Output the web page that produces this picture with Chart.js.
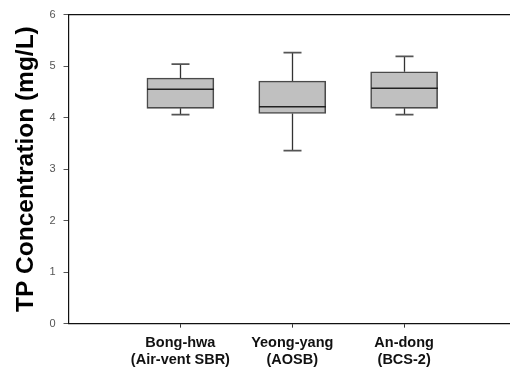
<!DOCTYPE html>
<html>
<head>
<meta charset="utf-8">
<script src="https://cdn.jsdelivr.net/npm/chart.js@4"></script>
<style>
html, body { margin:0; padding:0; overflow:hidden; background:#fff; }
</style>
</head>
<body>
<canvas id="tp_chart" width="516" height="376"></canvas>
<script>
// box plot values (mg/L)
const categories = [["Bong-hwa", "(Air-vent SBR)"], ["Yeong-yang", "(AOSB)"], ["An-dong", "(BCS-2)"]];
const minVals = [4.06, 3.36, 4.06];
const q1Vals = [4.18, 4.08, 4.18];
const medVals = [4.55, 4.21, 4.57];
const q3Vals = [4.77, 4.71, 4.89];
const maxVals = [5.04, 5.26, 5.19];
const yTicks = [0, 1, 2, 3, 4, 5, 6];

const BOX_W = 67;
const CAP_W = 18;

// whiskers + median line, drawn from the scales
const whiskerPlugin = {
    id: "whiskers",
    afterDatasetsDraw(chart) {
        let x = chart.scales.x, y = chart.scales.y, c = chart.ctx;
        c.save();
        c.lineCap = "butt";
        for (let i = 0; i < categories.length; i++) {
            let px = Math.round(x.getPixelForValue(i + 1)) + 0.5;
            let yMin = y.getPixelForValue(minVals[i]);
            let yMax = y.getPixelForValue(maxVals[i]);
            let yQ1 = y.getPixelForValue(q1Vals[i]);
            let yQ3 = y.getPixelForValue(q3Vals[i]);
            let yMed = y.getPixelForValue(medVals[i]);
            c.strokeStyle = "#333";
            c.lineWidth = 1.3;
            c.beginPath();
            c.moveTo(px, yQ3); c.lineTo(px, yMax);
            c.moveTo(px, yQ1); c.lineTo(px, yMin);
            c.stroke();
            c.strokeStyle = "#555";
            c.lineWidth = 1.8;
            c.beginPath();
            c.moveTo(px - CAP_W / 2, yMax); c.lineTo(px + CAP_W / 2, yMax);
            c.moveTo(px - CAP_W / 2, yMin); c.lineTo(px + CAP_W / 2, yMin);
            c.stroke();
            c.strokeStyle = "#222";
            c.lineWidth = 1.5;
            c.beginPath();
            c.moveTo(px - BOX_W / 2, yMed); c.lineTo(px + BOX_W / 2, yMed);
            c.stroke();
        }
        c.restore();
    }
};

let ctx = document.getElementById("tp_chart");
let tp_chart = new Chart(ctx, {
    type: "bar",
    plugins: [whiskerPlugin],
    data: {
        datasets: [
            {
                label: "TP",
                data: categories.map((c, i) => ({ x: i + 1, y: [q1Vals[i], q3Vals[i]] })),
                backgroundColor: "#c0c0c0",
                borderColor: "#4a4a4a",
                borderWidth: 1.6,
                borderSkipped: false,
                barThickness: BOX_W
            }
        ]
    },
    options: {
        responsive: false,
        animation: false,
        layout: { padding: { left: 12, top: 4, right: 0, bottom: 1 } },
        plugins: { legend: { display: false }, tooltip: { enabled: false } },
        scales: {
            x: {
                type: "linear",
                min: 0,
                max: 4,
                offset: false,
                afterBuildTicks: axis => { axis.ticks = [1, 2, 3].map(v => ({ value: v })); },
                grid: { display: true, offset: false, drawOnChartArea: false, tickLength: 4, tickColor: "#333" },
                border: { display: true, color: "#111", width: 1.2 },
                ticks: {
                    autoSkip: false,
                    maxRotation: 0,
                    padding: 7,
                    color: "#111",
                    font: { family: "Arial, 'Liberation Sans'", size: 14.5, weight: "bold", lineHeight: 1.15 },
                    callback: v => categories[v - 1] || ""
                }
            },
            xTop: {
                type: "linear",
                position: "top",
                min: 0,
                max: 4,
                offset: false,
                grid: { display: false },
                border: { display: true, color: "#111", width: 1.2 },
                ticks: { display: false }
            },
            y: {
                min: 0,
                max: 6,
                afterBuildTicks: axis => { axis.ticks = yTicks.map(v => ({ value: v })); },
                grid: { display: true, drawOnChartArea: false, tickLength: 5, tickColor: "#555" },
                border: { display: true, color: "#111", width: 1.2 },
                ticks: {
                    padding: 8,
                    color: "#555",
                    font: { family: "Arial, 'Liberation Sans'", size: 11 }
                },
                title: {
                    display: true,
                    text: "TP Concentration (mg/L)",
                    color: "#000",
                    padding: { top: 0, bottom: 0 },
                    font: { family: "Arial, 'Liberation Sans'", size: 24.5, weight: "bold" }
                }
            }
        }
    }
});
</script>
</body>
</html>
